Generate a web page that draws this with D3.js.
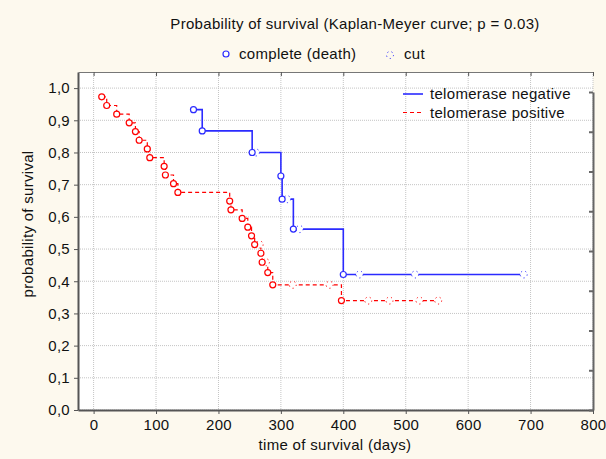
<!DOCTYPE html>
<html>
<head>
<meta charset="utf-8">
<script src="https://cdn.jsdelivr.net/npm/d3@7"></script>
<style>
  body { margin: 0; background: #fdf9ee; }
  svg text { font-family: "Liberation Sans", Arial, sans-serif; font-size: 15px; letter-spacing: 0.3px; fill: #111; }
</style>
</head>
<body>
<div id="chart"></div>
<script>
// telomerase negative: time (days), survival, type (d = complete/death, c = cut)
const negTime = [160, 174, 254, 260, 300, 302, 310, 320, 330, 400, 426, 515, 689];
const negSurv = [0.933, 0.867, 0.800, 0.800, 0.727, 0.655, 0.655, 0.562, 0.562, 0.421, 0.421, 0.421, 0.421];
const negType = ["d", "d", "d", "c", "d", "d", "c", "d", "c", "d", "c", "c", "c"];

// telomerase positive
const posTime = [13, 21, 37, 57, 67, 73, 86, 90, 113, 115, 128, 135, 218, 220, 238, 247, 253, 258, 266, 268, 270, 276, 279, 287, 319, 378, 397, 440, 474, 522, 552];
const posSurv = [0.973, 0.946, 0.919, 0.892, 0.865, 0.838, 0.811, 0.784, 0.757, 0.730, 0.703, 0.676, 0.649, 0.622, 0.595, 0.568, 0.541, 0.514, 0.514, 0.487, 0.459, 0.459, 0.427, 0.389, 0.389, 0.389, 0.340, 0.340, 0.340, 0.340, 0.340];
const posType = ["d", "d", "d", "d", "d", "d", "d", "d", "d", "d", "d", "d", "d", "d", "d", "d", "d", "d", "c", "d", "d", "c", "d", "d", "c", "c", "d", "c", "c", "c", "c"];

const timeTicks = [0, 100, 200, 300, 400, 500, 600, 700, 800];
const probTicks = [0, 0.1, 0.2, 0.3, 0.4, 0.5, 0.6, 0.7, 0.8, 0.9, 1.0];
const rightTicks = [0, 1, 2, 3, 4, 5, 6, 7, 8];

const width = 606, height = 459;
const margin = ({ top: 72, right: 13, bottom: 49, left: 78 });
const blue = "#2b2bff", red = "#ff0000";

const svg = d3.select("#chart")
  .append("svg")
  .attr("width", width)
  .attr("height", height);

svg.append("rect")
  .attr("width", width).attr("height", height)
  .attr("fill", "#fdf9ee");

svg.append("rect")
  .attr("x", margin.left).attr("y", margin.top)
  .attr("width", width - margin.left - margin.right)
  .attr("height", height - margin.top - margin.bottom)
  .attr("fill", "#fff");

let x = d3.scaleLinear()
  .domain([-25, 800])
  .range([margin.left, width - margin.right]);

let y = d3.scaleLinear()
  .domain([0, 1.05])
  .range([height - margin.bottom, margin.top]);

let yRight = d3.scaleLinear()
  .domain([0, 8])
  .range([height - margin.bottom, 92]);

// grid
const grid = svg.append("g")
  .attr("stroke", "#c4c4c4")
  .attr("stroke-dasharray", "1,1");
grid.selectAll(".vg").data(timeTicks).join("line")
  .attr("x1", d => x(d)).attr("x2", d => x(d))
  .attr("y1", margin.top).attr("y2", height - margin.bottom);
grid.selectAll(".hg").data(probTicks).join("line")
  .attr("x1", margin.left).attr("x2", width - margin.right)
  .attr("y1", d => y(d)).attr("y2", d => y(d));

// axes
const fmt = d => d3.format(".1f")(d).replace(".", ",");

const yAxis = svg.append("g")
  .attr("transform", `translate(${margin.left},0)`)
  .call(d3.axisLeft(y).tickValues(probTicks).tickFormat(fmt).tickSize(4).tickSizeOuter(0).tickPadding(4));

const xAxis = svg.append("g")
  .attr("transform", `translate(0,${height - margin.bottom})`)
  .call(d3.axisBottom(x).tickValues(timeTicks).tickSize(4).tickSizeOuter(0).tickPadding(5));

const topAxis = svg.append("g")
  .attr("transform", `translate(0,${margin.top})`)
  .call(d3.axisBottom(x).tickValues(timeTicks).tickSize(4).tickSizeOuter(0).tickFormat(""));

const rAxis = svg.append("g")
  .attr("transform", `translate(${width - margin.right},0)`)
  .call(d3.axisLeft(yRight).tickValues(rightTicks).tickSize(4).tickSizeOuter(0).tickFormat(""));

[yAxis, xAxis, rAxis].forEach(g => {
  g.select(".domain").attr("stroke", "#555").attr("stroke-width", 2);
  g.selectAll(".tick line").attr("stroke", "#555");
  g.selectAll("text").attr("font-size", null).attr("font-family", null).attr("fill", "#111");
});
topAxis.select(".domain").attr("stroke", "#777").attr("stroke-width", 1);
topAxis.selectAll(".tick line").attr("stroke", "#555");
rAxis.selectAll(".tick line").attr("stroke", "#666").attr("stroke-width", 2).attr("x2", -4);
rAxis.select(".domain").attr("stroke", "#666");

// labels
svg.append("text")
  .attr("x", 355).attr("y", 29)
  .attr("text-anchor", "middle")
  .text("Probability of survival (Kaplan-Meyer curve; p = 0.03)");

svg.append("text")
  .attr("x", 335).attr("y", 450)
  .attr("text-anchor", "middle")
  .text("time of survival (days)");

svg.append("text")
  .attr("transform", "translate(33,224) rotate(-90)")
  .attr("text-anchor", "middle")
  .text("probability of survival");

// curves
let line = d3.line()
  .x(d => x(d.t))
  .y(d => y(d.s))
  .curve(d3.curveStepAfter);

const series = [
  { name: "telomerase negative", color: blue, width: 1.6, dash: null,
    pts: negTime.map((t, i) => ({ t: t, s: negSurv[i], type: negType[i] })) },
  { name: "telomerase positive", color: red, width: 1.2, dash: "4,3",
    pts: posTime.map((t, i) => ({ t: t, s: posSurv[i], type: posType[i] })) }
];

series.forEach(sr => {
  svg.append("path")
    .datum(sr.pts)
    .attr("d", line)
    .attr("fill", "none")
    .attr("stroke", sr.color)
    .attr("stroke-width", sr.width)
    .attr("stroke-dasharray", sr.dash);

  // cut markers first, so complete (death) circles stay on top
  svg.append("g").selectAll("circle")
    .data(sr.pts.filter(d => d.type === "c"))
    .join("circle")
    .attr("cx", d => x(d.t))
    .attr("cy", d => y(d.s))
    .attr("r", 3.5)
    .attr("fill", "#fff")
    .attr("stroke", sr.color)
    .attr("stroke-width", 1)
    .attr("stroke-dasharray", "1.2,3.2");

  svg.append("g").selectAll("circle")
    .data(sr.pts.filter(d => d.type === "d"))
    .join("circle")
    .attr("cx", d => x(d.t))
    .attr("cy", d => y(d.s))
    .attr("r", 3)
    .attr("fill", "#fff")
    .attr("stroke", sr.color)
    .attr("stroke-width", 1.2);
});

// legend on top
svg.append("circle")
  .attr("cx", 226).attr("cy", 54).attr("r", 3)
  .attr("fill", "#fff").attr("stroke", blue).attr("stroke-width", 1.2);
svg.append("text").attr("x", 239).attr("y", 59).text("complete (death)");
svg.append("circle")
  .attr("cx", 390).attr("cy", 55).attr("r", 3.5)
  .attr("fill", "none").attr("stroke", blue).attr("stroke-dasharray", "1.2,3.2");
svg.append("text").attr("x", 404).attr("y", 59).text("cut");

// legend inside plot
series.forEach((sr, i) => {
  const ly = 94 + i * 18.5;
  svg.append("line")
    .attr("x1", 403).attr("x2", 423)
    .attr("y1", ly).attr("y2", ly)
    .attr("stroke", sr.color)
    .attr("stroke-width", sr.width)
    .attr("stroke-dasharray", sr.dash);
  svg.append("text").attr("x", 430).attr("y", ly + 5).text(sr.name);
});
</script>
</body>
</html>
